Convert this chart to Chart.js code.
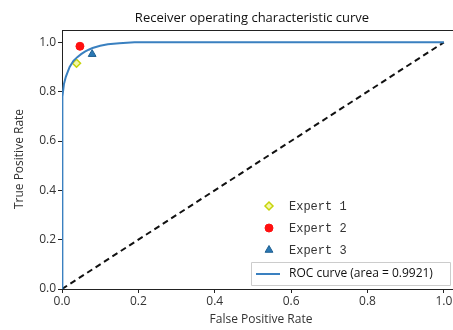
<!DOCTYPE html>
<html>
<head>
<meta charset="utf-8">
<script src="https://cdn.jsdelivr.net/npm/chart.js@4.4.1/dist/chart.umd.min.js"></script>
<style>
  html, body { margin: 0; padding: 0; background: #fff; }
  #wrap { width: 453px; height: 330px; }
</style>
</head>
<body>
<div id="wrap"><canvas id="roc"></canvas></div>
<script>
// ROC curve
const rocFpr = [0, 0, 0.002, 0.005, 0.01, 0.015, 0.02, 0.03, 0.04, 0.05, 0.06, 0.07, 0.08, 0.1, 0.12, 0.15, 0.19, 1.0];
const rocTpr = [0, 0.58, 0.78, 0.83, 0.86, 0.88, 0.9, 0.925, 0.94, 0.952, 0.962, 0.97, 0.977, 0.986, 0.992, 0.996, 1.0, 1.0];
const chanceLine = [0, 1];

// expert operating points
const expertNames = ["Expert 1", "Expert 2", "Expert 3"];
const expertFpr = [0.038, 0.047, 0.079];
const expertTpr = [0.915, 0.984, 0.952];

const rocLabel = "ROC curve (area = 0.9921)";
const tickValues = [0, 0.2, 0.4, 0.6, 0.8, 1.0];

const sansFont = "'Open Sans', 'Noto Sans', sans-serif";
const textColor = "#333";

// scatter styles per expert
const expertStyles = [
  { pointStyle: "rectRot", radius: 4, bg: "#f4f7a8", border: "#c6d40a", bw: 1.5 },
  { pointStyle: "circle", radius: 4, bg: "#ff1010", border: "#ff1010", bw: 1 },
  { pointStyle: "triangle", radius: 4.5, bg: "#2a78b4", border: "#1f5f90", bw: 1 },
];

const rocPoints = rocFpr.map((x, i) => ({ x: x, y: rocTpr[i] }));
const diagPoints = chanceLine.map((v) => ({ x: v, y: v }));

const expertSets = expertNames.map((name, i) => ({
  label: name,
  data: [{ x: expertFpr[i], y: expertTpr[i] }],
  pointStyle: expertStyles[i].pointStyle,
  pointRadius: expertStyles[i].radius,
  pointBackgroundColor: expertStyles[i].bg,
  pointBorderColor: expertStyles[i].border,
  pointBorderWidth: expertStyles[i].bw,
  showLine: false,
}));

// title, axis labels, top frame and the two legends
const decorations = {
  id: "decorations",
  afterDraw(chart) {
    const ctx = chart.ctx;
    const area = chart.chartArea;
    ctx.save();

    ctx.strokeStyle = "#222";
    ctx.lineWidth = 1;
    ctx.beginPath();
    ctx.moveTo(area.left, area.top + 0.5);
    ctx.lineTo(area.right, area.top + 0.5);
    ctx.stroke();

    ctx.fillStyle = "#111";
    ctx.textAlign = "center";
    ctx.textBaseline = "middle";
    ctx.font = "13px " + sansFont;
    ctx.fillText("Receiver operating characteristic curve", 252, 18);

    ctx.fillStyle = textColor;
    ctx.font = "12px " + sansFont;
    ctx.fillText("False Positive Rate", 261, 320);
    ctx.save();
    ctx.translate(20, 159);
    ctx.rotate(-Math.PI / 2);
    ctx.fillText("True Positive Rate", 0, 0);
    ctx.restore();

    // expert legend (no frame)
    ctx.textAlign = "left";
    ctx.font = "12px 'Liberation Mono', monospace";
    expertSets.forEach((ds, i) => {
      const y = 206 + i * 22;
      ctx.fillStyle = ds.pointBackgroundColor;
      ctx.strokeStyle = ds.pointBorderColor;
      ctx.lineWidth = ds.pointBorderWidth;
      Chart.helpers.drawPoint(ctx, { pointStyle: ds.pointStyle, radius: ds.pointRadius, borderWidth: ds.pointBorderWidth, rotation: 0 }, 269, y);
      ctx.fillStyle = "#333";
      ctx.fillText(ds.label, 289, y + 1);
    });

    // ROC legend box
    ctx.fillStyle = "rgba(255,255,255,0.85)";
    ctx.strokeStyle = "#ccc";
    ctx.lineWidth = 1;
    ctx.beginPath();
    ctx.rect(251.5, 262.5, 199, 23);
    ctx.fill();
    ctx.stroke();
    ctx.strokeStyle = chart.data.datasets[0].borderColor;
    ctx.lineWidth = 2;
    ctx.beginPath();
    ctx.moveTo(256, 274);
    ctx.lineTo(280, 274);
    ctx.stroke();
    ctx.fillStyle = "#111";
    ctx.font = "12px " + sansFont;
    ctx.fillText(rocLabel, 289, 274);

    ctx.restore();
  },
};

function onlyTicks(scale) {
  scale.ticks = tickValues.map((v) => ({ value: v }));
}

new Chart(document.getElementById("roc"), {
  type: "scatter",
  data: {
    datasets: [
      {
        label: rocLabel,
        data: rocPoints,
        showLine: true,
        borderColor: "#3a80c0",
        borderWidth: 2,
        pointRadius: 0,
        tension: 0,
      },
      {
        label: "chance",
        data: diagPoints,
        showLine: true,
        borderColor: "#111",
        borderWidth: 2,
        borderDash: [6, 4],
        pointRadius: 0,
      },
      ...expertSets,
    ],
  },
  options: {
    responsive: true,
    maintainAspectRatio: false,
    animation: false,
    layout: { autoPadding: false, padding: { top: 30, right: 0, left: 0, bottom: 0 } },
    plugins: {
      legend: { display: false },
      title: { display: false },
      tooltip: { enabled: false },
    },
    scales: {
      x: {
        type: "linear",
        min: 0,
        max: 1.024,
        afterBuildTicks: onlyTicks,
        afterFit(scale) {
          scale.height = 41;
          scale.paddingLeft = 0;
          scale.paddingRight = 0;
        },
        grid: { display: true, drawOnChartArea: false, drawTicks: true, tickLength: 4, color: "#222" },
        border: { display: true, color: "#222", width: 1 },
        ticks: {
          color: textColor,
          font: { family: sansFont, size: 12 },
          padding: 1,
          maxRotation: 0,
          callback: (v) => v.toFixed(1),
        },
      },
      y: {
        type: "linear",
        min: 0,
        max: 1.05,
        afterBuildTicks: onlyTicks,
        afterFit(scale) {
          scale.width = 62;
          scale.paddingTop = 0;
          scale.paddingBottom = 0;
        },
        grid: { display: true, drawOnChartArea: false, drawTicks: true, tickLength: 4, color: "#222" },
        border: { display: true, color: "#222", width: 1 },
        ticks: {
          color: textColor,
          font: { family: sansFont, size: 12 },
          padding: 2,
          callback: (v) => v.toFixed(1),
        },
      },
    },
  },
  plugins: [decorations],
});
</script>
</body>
</html>
